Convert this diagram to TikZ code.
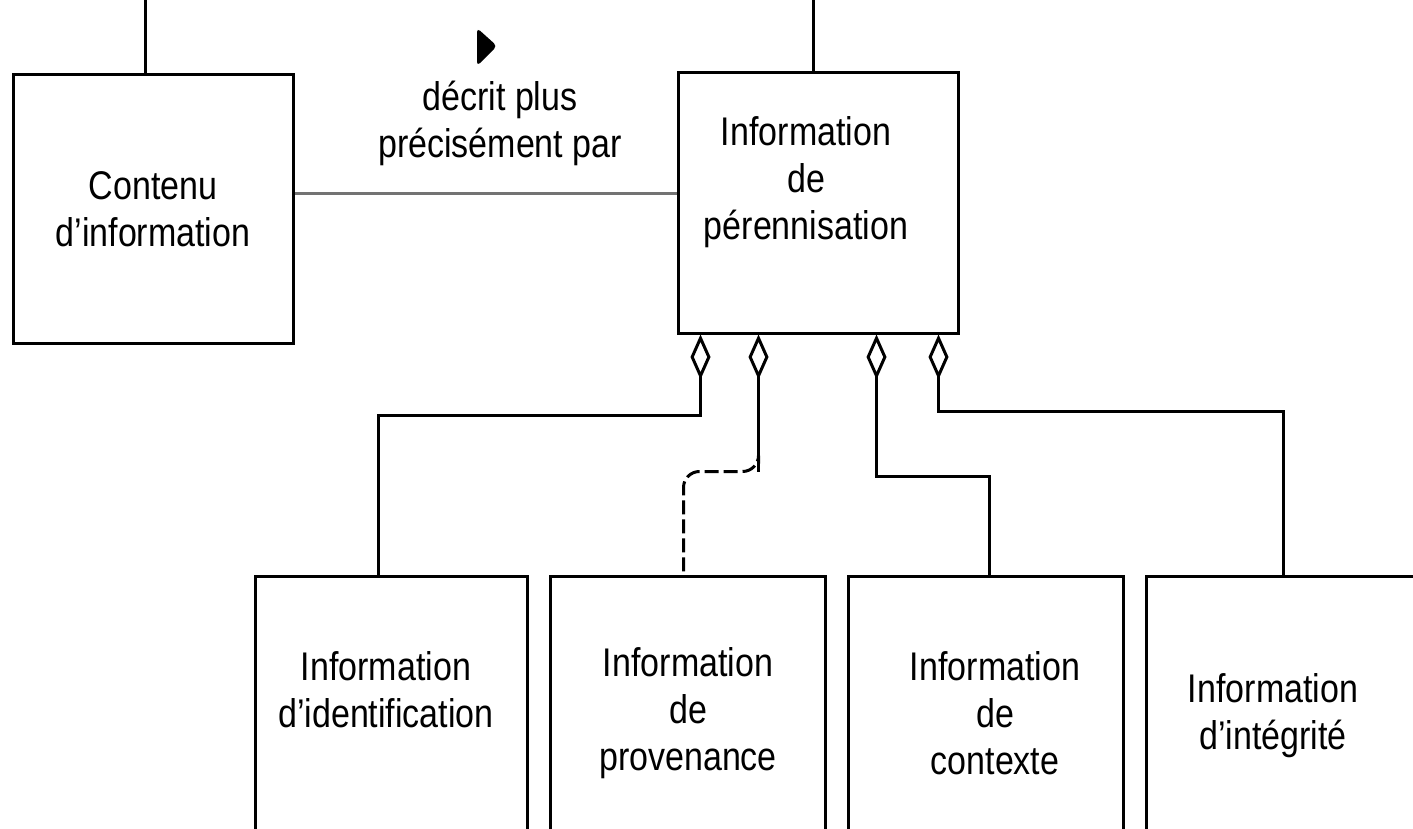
\documentclass[tikz,border=0pt]{standalone}
\usepackage{fontspec}
\setmainfont{Liberation Sans}[FakeStretch=0.85]
\usetikzlibrary{arrows.meta,positioning,calc}

\begin{document}
\begin{tikzpicture}[x=0.5pt, y=-0.5pt, align=center, node distance=10pt]
    \tikzset{
        boite/.style        =   { rectangle
                                , draw=black
                                , line width=1.5pt
                                , minimum width=137.5pt
                                , inner sep=0pt
        }
        , texte/.style      =   { font=\fontsize{20pt}{23.5pt}\selectfont
                                , inner sep=0pt
        }
        , lien/.style       =   { line width=1.5pt
        }
        , agreg/.style      =   { line width=1.5pt
                                , {Diamond[open, length=22.5pt, width=10pt]}-
        }
        , pointille/.style  =   { line width=1.5pt
                                , dash pattern=on 7pt off 2.5pt
        }
    }
    \useasboundingbox (0,0) rectangle (1413,829);
    \clip (0,0) rectangle (1413,829);

    \node(contenu)[boite, texte, minimum width=140pt, minimum height=134pt] at (153,209) {Contenu\\d'information};
    \node(pere)[boite, minimum width=140pt, minimum height=130pt] at (818,203) {};
    \node(peretxt)[texte] at (806,182) {Information\\de\\pérennisation};
    \node(decrit)[texte] at (500,123) {décrit plus\\précisément par};
    \fill[rounded corners=2pt] (477,28) -- (497,46) -- (477,66) -- cycle;

    \node(ident)[boite, anchor=north, minimum width=136pt, minimum height=213pt] at (391,575) {};
    \node(prov)[boite, minimum height=213pt, right=of ident] {};
    \node(cont)[boite, minimum height=213pt, right=of prov] {};
    \node(integ)[boite, minimum height=213pt, right=of cont] {};
    \node(identtxt)[texte] at (386,690) {Information\\d'identification};
    \node(provtxt)[texte] at (688,713) {Information\\de\\provenance};
    \node(conttxt)[texte] at (995,713) {Information\\de\\contexte};
    \node(integtxt)[texte] at (1273,716) {Information\\d'intégrité};

    \coordinate(hautA) at (145,0);
    \coordinate(hautB) at (813,0);
    \draw[lien] (hautA) -- (hautA |- contenu.north);
    \draw[lien] (hautB) -- (hautB |- pere.north);
    \draw[lien, draw=black!55] ($(contenu.east)+(0,-16)$) -- ($(pere.west)+(0,-10)$);

    \draw[agreg] ($(pere.south west)+(24,0)$) -- ++(0,81) -| ($(ident.north)+(-13,0)$);
    \draw[agreg] ($(pere.south west)+(82,0)$) -- ++(0,137) coordinate(coude);
    \draw[pointille, rounded corners=8pt] ($(coude)+(0,-8)$) -- ++(0,8) -| ($(prov.north)+(-4,0)$);
    \draw[agreg] ($(pere.south west)+(200,0)$) -- ++(0,142) -| ($(cont.north)+(4,0)$);
    \draw[agreg] ($(pere.south west)+(262,0)$) -- ++(0,77) -| (integ.north);
\end{tikzpicture}
\end{document}
